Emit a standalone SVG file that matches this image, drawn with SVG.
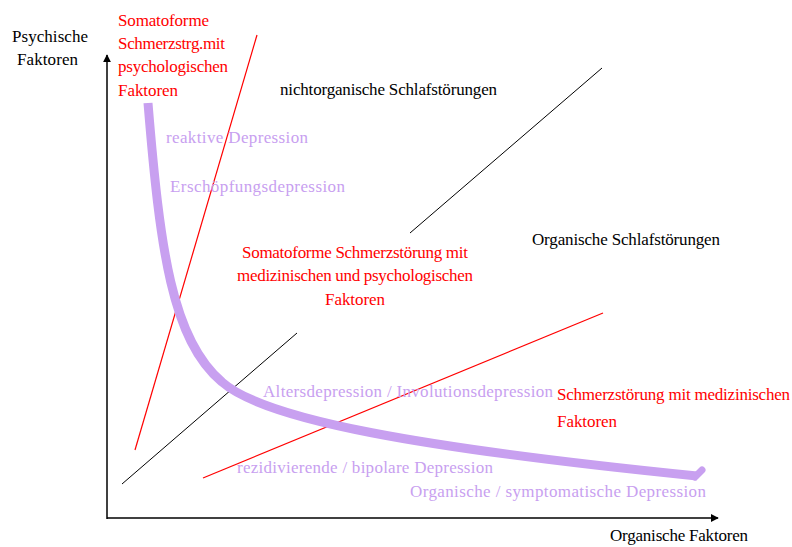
<svg xmlns="http://www.w3.org/2000/svg" width="792" height="547" viewBox="0 0 792 547">
<style>
text{font-family:"Liberation Serif","Times New Roman",serif;font-size:17px}
.blk{fill:#000}
.red{fill:#ff0000}
.pur{fill:#c8a0f0}
.ax{stroke:#000;stroke-width:1.5;fill:none}
</style>
<defs>
<marker id="ah" viewBox="0 0 10 10" refX="9" refY="5" markerWidth="8" markerHeight="8" markerUnits="userSpaceOnUse" orient="auto">
<path d="M0,0 L10,5 L0,10 z" fill="#000"/>
</marker>
</defs>
<rect width="792" height="547" fill="#fff"/>
<g id="connectors">
<line class="ax" x1="107" y1="519" x2="107" y2="55" marker-end="url(#ah)"/>
<line class="ax" x1="107" y1="518" x2="718" y2="518" marker-end="url(#ah)"/>
<line x1="135" y1="450" x2="257" y2="35" stroke="#ff0000" stroke-width="1.2"/>
<line x1="203" y1="478" x2="603" y2="313" stroke="#ff0000" stroke-width="1.2"/>
<line x1="410" y1="233" x2="602" y2="68" stroke="#000" stroke-width="1"/>
<line x1="122" y1="484" x2="297" y2="333" stroke="#000" stroke-width="1"/>
<path d="M148,103 C160,250 172,340 222,382 C265,420 420,448 697,476" stroke="#c8a0f0" stroke-width="9" fill="none"/>
<path d="M695,477 L702,470" stroke="#c8a0f0" stroke-width="7" fill="none" stroke-linecap="round"/>
</g>
<g id="axis-y-label">
<text class="blk" x="12" y="42" textLength="76">Psychische</text>
<text class="blk" x="17" y="65" textLength="61">Faktoren</text>
</g>
<g id="axis-x-label">
<text class="blk" x="610" y="541" textLength="138">Organische Faktoren</text>
</g>
<g id="somatoform-psych">
<text class="red" x="118" y="26" textLength="91">Somatoforme</text>
<text class="red" x="118" y="49" textLength="107">Schmerzstrg.mit</text>
<text class="red" x="118" y="72" textLength="110">psychologischen</text>
<text class="red" x="118" y="96" textLength="60">Faktoren</text>
</g>
<g id="nichtorganische">
<text class="blk" x="280" y="95" textLength="217">nichtorganische Schlafstörungen</text>
</g>
<g id="organische-schlaf">
<text class="blk" x="532" y="245" textLength="188">Organische Schlafstörungen</text>
</g>
<g id="somatoform-med-psych">
<text class="red" x="242" y="258" textLength="226">Somatoforme Schmerzstörung mit</text>
<text class="red" x="237" y="281" textLength="236">medizinischen und psychologischen</text>
<text class="red" x="325" y="305" textLength="60">Faktoren</text>
</g>
<g id="schmerz-med">
<text class="red" x="557" y="400" textLength="233">Schmerzstörung mit medizinischen</text>
<text class="red" x="557" y="427" textLength="60">Faktoren</text>
</g>
<g id="depressions">
<text class="pur" x="166" y="143" textLength="142">reaktive Depression</text>
<text class="pur" x="170" y="192" textLength="175">Erschöpfungsdepression</text>
<text class="pur" x="263" y="397" textLength="290">Altersdepression / Involutionsdepression</text>
<text class="pur" x="237" y="473" textLength="256">rezidivierende / bipolare Depression</text>
<text class="pur" x="410" y="497" textLength="296">Organische / symptomatische Depression</text>
</g>
</svg>
